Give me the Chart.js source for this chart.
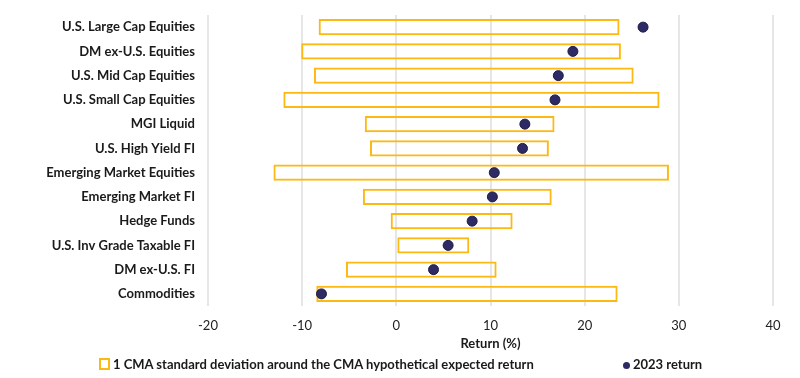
<!DOCTYPE html>
<html>
<head>
<meta charset="utf-8">
<script src="https://cdn.jsdelivr.net/npm/chart.js@4"></script>
<style>
  html, body { margin: 0; padding: 0; background: #fff; }
  #wrap { position: relative; width: 800px; height: 378px; }
  #legend { position: absolute; top: 356px; left: 0; width: 800px; height: 20px; font-family: Lato, "Open Sans", sans-serif; font-weight: 700; font-size: 13px; color: #1a1a1a; }
  .li { position: absolute; top: 0px; white-space: nowrap; }
  .sq { display: inline-block; width: 7px; height: 8px; border: 2px solid #FDB913; vertical-align: -1px; margin-right: 3px; }
  .dot { display: inline-block; width: 7px; height: 7px; border-radius: 50%; background: #2E2A63; vertical-align: 0px; margin-right: 3px; }
</style>
</head>
<body>
<div id="wrap">
  <canvas id="c" width="800" height="378"></canvas>
  <div id="legend">
    <span class="li" style="left:99px"><span class="sq"></span>1 CMA standard deviation around the CMA hypothetical expected return</span>
    <span class="li" style="left:623px"><span class="dot"></span>2023 return</span>
  </div>
</div>
<script>
const categories = [
  "U.S. Large Cap Equities",
  "DM ex-U.S. Equities",
  "U.S. Mid Cap Equities",
  "U.S. Small Cap Equities",
  "MGI Liquid",
  "U.S. High Yield FI",
  "Emerging Market Equities",
  "Emerging Market FI",
  "Hedge Funds",
  "U.S. Inv Grade Taxable FI",
  "DM ex-U.S. FI",
  "Commodities"
];
const rangeLow  = [-8.25, -10.1, -8.75, -12.0, -3.35, -2.8, -13.05, -3.55, -0.6, 0.0, -5.35, -8.5];
const rangeHigh = [23.7, 23.85, 25.2, 27.95, 16.8, 16.2, 28.95, 16.5, 12.35, 7.75, 10.65, 23.5];
const return2023 = [26.2, 18.75, 17.2, 16.85, 13.65, 13.4, 10.4, 10.2, 8.05, 5.5, 3.95, -7.95];
const xTicks = [-20, -10, 0, 10, 20, 30, 40];
const legendLabels = ["1 CMA standard deviation around the CMA hypothetical expected return", "2023 return"];
const axisTitle = "Return (%)";

const font = "Lato, 'Open Sans', sans-serif";

new Chart(document.getElementById('c'), {
  type: 'bar',
  data: {
    labels: categories,
    datasets: [
      {
        type: 'line',
        label: legendLabels[1],
        data: categories.map((c, i) => ({ x: return2023[i], y: c })),
        showLine: false,
        pointRadius: 5,
        pointHoverRadius: 5,
        pointBackgroundColor: '#2E2A63',
        pointBorderColor: '#1F1C4A',
        pointBorderWidth: 1,
        order: 0
      },
      {
        type: 'bar',
        label: legendLabels[0],
        data: categories.map((c, i) => [rangeLow[i], rangeHigh[i]]),
        backgroundColor: 'rgba(255,255,255,0)',
        borderColor: '#FDB913',
        borderWidth: 2,
        borderSkipped: false,
        barPercentage: 0.66,
        categoryPercentage: 1.0,
        order: 1
      }
    ]
  },
  options: {
    indexAxis: 'y',
    responsive: false,
    animation: false,
    layout: { padding: { left: 0, right: 27, top: 15, bottom: 26 } },
    plugins: {
      legend: { display: false },
      tooltip: { enabled: false }
    },
    scales: {
      x: {
        type: 'linear',
        min: xTicks[0],
        max: xTicks[xTicks.length - 1],
        afterBuildTicks: (axis) => { axis.ticks = xTicks.map(v => ({ value: v })); },
        afterFit: (axis) => { axis.height = 46; axis.paddingLeft = 0; axis.paddingRight = 0; },
        grid: { color: '#E6E6E6', lineWidth: 2, drawTicks: false },
        border: { display: false },
        ticks: { color: '#222', font: { family: font, size: 13 }, padding: 12 },
        title: { display: true, text: axisTitle, color: '#1a1a1a', font: { family: font, size: 13, weight: 'bold' }, padding: { top: 6, bottom: 0 } }
      },
      y: {
        type: 'category',
        grid: { display: false, drawTicks: false },
        border: { display: false },
        afterFit: (axis) => { axis.width = 208; axis.paddingTop = 0; axis.paddingBottom = 0; },
        ticks: { color: '#1a1a1a', font: { family: font, size: 13, weight: 'bold' }, padding: 13 }
      }
    }
  }
});
</script>
</body>
</html>
